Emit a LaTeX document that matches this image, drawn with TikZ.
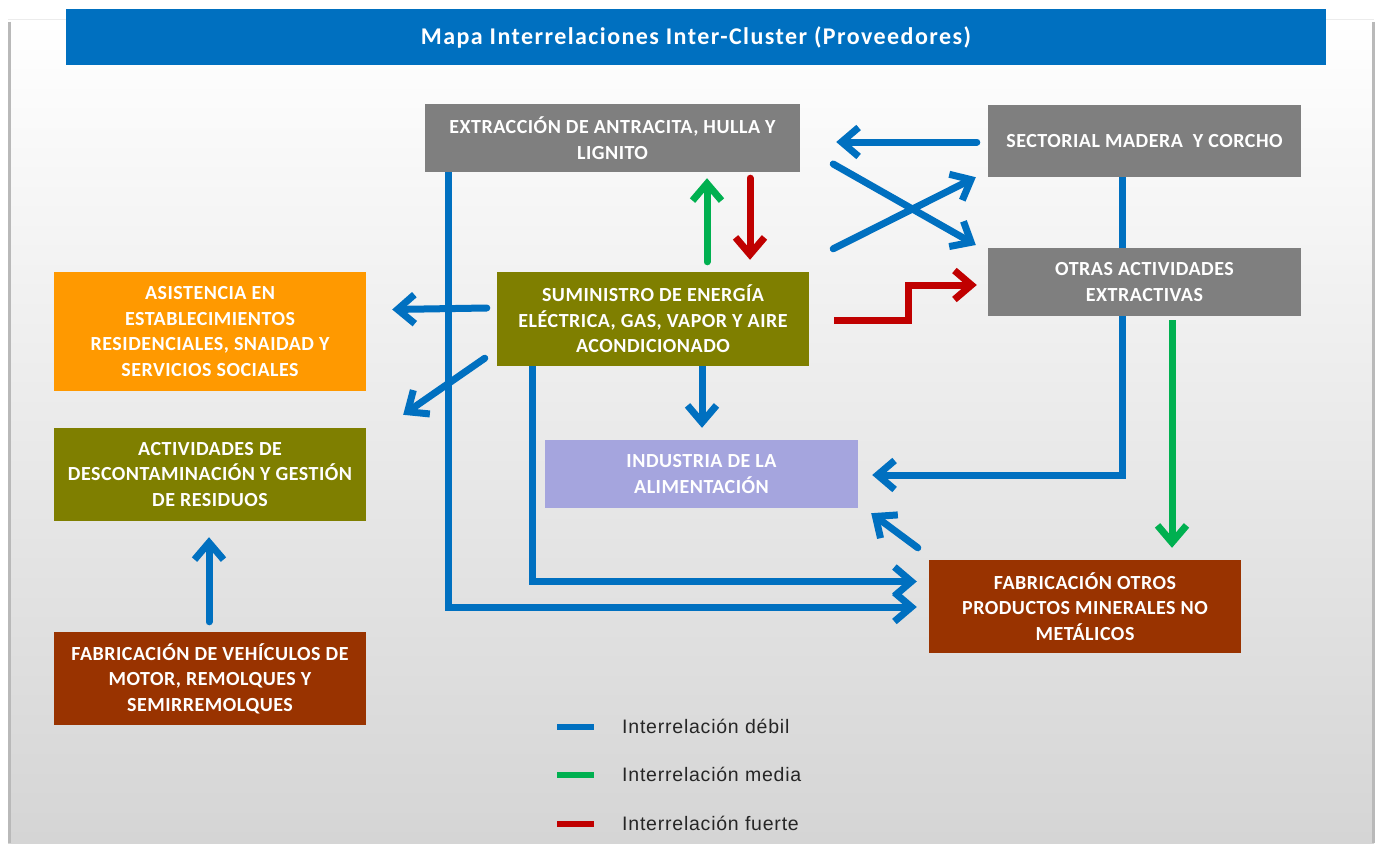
\documentclass[tikz,border=0pt]{standalone}
\usepackage{fontspec}
\setmainfont{Carlito}[LetterSpace=2.5]
\newfontfamily\legfont{Liberation Sans}[LetterSpace=4]
\usetikzlibrary{arrows.meta,calc}
\definecolor{cblue}{HTML}{0070C0}
\definecolor{cgreen}{HTML}{00B050}
\definecolor{cred}{HTML}{C00000}
\definecolor{cgray}{HTML}{7F7F7F}
\definecolor{colive}{HTML}{7F7F00}
\definecolor{corange}{HTML}{FF9900}
\definecolor{clav}{HTML}{A5A5DE}
\definecolor{cbrown}{HTML}{993300}
\definecolor{clegtext}{HTML}{262626}
\pgfdeclarelayer{bg}
\pgfsetlayers{bg,main}
\begin{document}
\begin{tikzpicture}[x=1pt,y=-1pt,
  box/.style={rectangle, text=white, font=\fontsize{20}{25.5}\selectfont\bfseries,
    align=center, inner sep=0pt, minimum width=312pt},
  conn/.style={line width=7pt, line cap=round, -{Straight Barb[length=17pt,width=29pt]}},
  weak/.style={conn, draw=cblue},
  medium/.style={conn, draw=cgreen},
  strong/.style={conn, draw=cred},
  swatch/.style={rectangle, inner sep=0pt, minimum width=37pt, minimum height=6pt},
  legtext/.style={anchor=west, inner sep=0pt, text=clegtext, font=\legfont\fontsize{19.5}{22}\selectfont}
]
\useasboundingbox (0,0) rectangle (1380,843);
% background panel
\begin{pgfonlayer}{bg}
  \shade[top color=white, bottom color=gray!33] (8,20) rectangle (1374,843);
  \draw[gray!15, line width=1pt] (8,20) -- (1374,20);
  \draw[gray!55, line width=3pt] (9,22) -- (9,843);
  \draw[gray!55, line width=3pt] (1373,22) -- (1373,843);
\end{pgfonlayer}
% title
\node[rectangle, fill=cblue, minimum width=1260pt, minimum height=55pt, inner sep=0pt,
  text=white, font=\fontsize{24}{26}\selectfont\bfseries\addfontfeatures{LetterSpace=6}] (title) at (696,37)
  {Mapa Interrelaciones Inter-Cluster (Proveedores)};
% boxes
\node[box, fill=cgray, minimum width=375pt, minimum height=68pt] (ext) at (612.5,138)
  {EXTRACCIÓN DE ANTRACITA, HULLA Y\\LIGNITO};
\node[box, fill=cgray, minimum width=313pt, minimum height=72pt] (sec) at (1144.5,141)
  {SECTORIAL MADERA \ Y CORCHO};
\node[box, fill=cgray, minimum width=313pt, minimum height=68pt] (otr) at (1144.5,282)
  {OTRAS ACTIVIDADES\\EXTRACTIVAS};
\node[box, fill=colive, minimum height=94pt] (sum) at (653,319)
  {SUMINISTRO DE ENERGÍA\\ELÉCTRICA, GAS, VAPOR Y AIRE\\ACONDICIONADO};
\node[box, fill=corange, minimum height=119pt] (asi) at (210,331.5)
  {ASISTENCIA EN\\ESTABLECIMIENTOS\\RESIDENCIALES, SNAIDAD Y\\SERVICIOS SOCIALES};
\node[box, fill=colive, minimum height=93pt] (act) at (210,474.5)
  {ACTIVIDADES DE\\DESCONTAMINACIÓN Y GESTIÓN\\DE RESIDUOS};
\node[box, fill=clav, minimum width=313pt, minimum height=68pt] (ind) at (701.5,474)
  {INDUSTRIA DE LA\\ALIMENTACIÓN};
\node[box, fill=cbrown, minimum height=93pt] (fab) at (1085,606.5)
  {FABRICACIÓN OTROS\\PRODUCTOS MINERALES NO\\METÁLICOS};
\node[box, fill=cbrown, minimum height=93pt] (veh) at (210,678.5)
  {FABRICACIÓN DE VEHÍCULOS DE\\MOTOR, REMOLQUES Y\\SEMIRREMOLQUES};
% connectors
\draw[weak] ($(sec.west)+(-11,1)$) -- ($(ext.east)+(36,4)$);
\draw[weak] ($(ext.east)+(33,26)$) -- ($(otr.west)+(-12,-37)$);
\draw[weak] ($(sum.north east)+(24,-23)$) -- ($(sec.south west)+(-12,0)$);
\draw[medium] ($(sum.north)+(54,-10)$) -- ($(ext.south)+(94.5,6)$);
\draw[strong] ($(ext.south)+(137.5,6)$) -- ($(sum.north)+(97,-12)$);
\draw[strong, line cap=butt] ($(sum.east)+(25,1)$) -- ++(74,0) |- ($(otr.west)+(-11,3)$);
\draw[weak] ($(sum.west)+(-10,-11)$) -- ($(asi.east)+(26,-22)$);
\draw[weak] ($(sum.south west)+(-12,-8)$) -- ($(act.north east)+(37,-13)$);
\draw[weak, line cap=butt] ($(ext.south west)+(24,0)$) |- ($(fab.west)+(-12,0.5)$);
\draw[weak, line cap=butt] ($(sum.south west)+(36,0)$) |- ($(fab.west)+(-12,-25)$);
\draw[weak, line cap=butt] ($(sum.south)+(49,0)$) -- ($(ind.north)+(0.5,-12)$);
\draw[weak] ($(fab.north west)+(-11,-12)$) -- ($(ind.south east)+(13,5)$);
\draw[medium, line cap=butt] ($(otr.south)+(27.5,4)$) -- ($(fab.north)+(87,-12)$);
\draw[weak] ($(veh.north)+(-1,-10)$) -- ($(act.south)+(-1,16)$);
\begin{pgfonlayer}{bg}
  \draw[weak, line cap=butt] ($(sec.south)+(-22,0)$) |- ($(ind.east)+(14,1)$);
\end{pgfonlayer}
% legend
\node[swatch, fill=cblue] (lw) at (575.5,727) {};
\node[swatch, fill=cgreen] (lm) at (575.5,775) {};
\node[swatch, fill=cred] (ls) at (575.5,824) {};
\node[legtext] (lwt) at (622,726) {Interrelación débil};
\node[legtext] (lmt) at (622,774) {Interrelación media};
\node[legtext] (lst) at (622,823) {Interrelación fuerte};
\end{tikzpicture}
\end{document}
